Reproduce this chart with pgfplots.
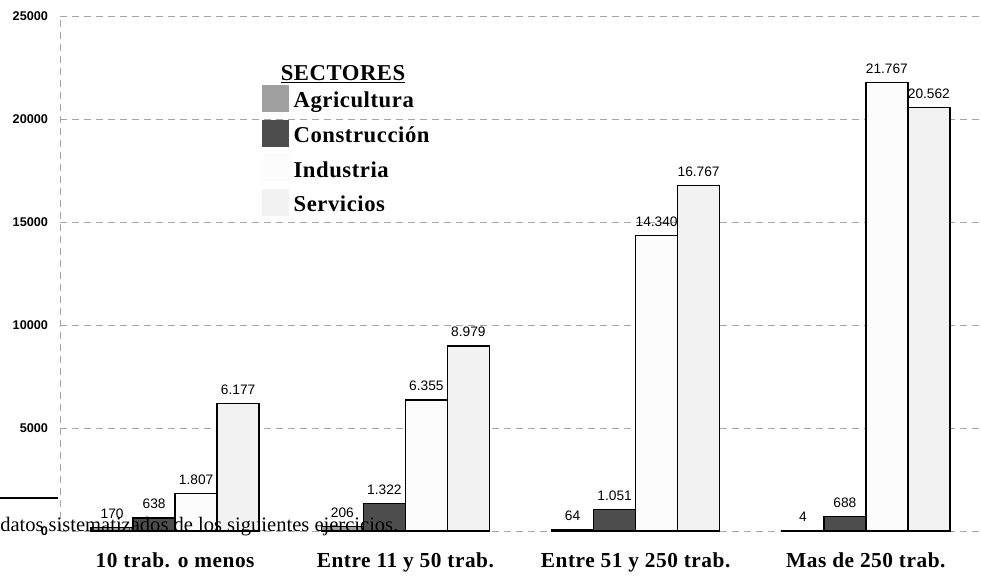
\documentclass[border=0pt]{standalone}
\usepackage{pgfplots}
\pgfplotsset{compat=1.18}
\usepackage{fontspec}
\setmainfont{Liberation Serif}
\newfontfamily\arialf{Liberation Sans}
\newfontfamily\legf[LetterSpace=2.5]{Liberation Serif}
\definecolor{cagr}{HTML}{A0A0A0}
\definecolor{ccon}{HTML}{4D4D4D}
\definecolor{cind}{HTML}{FCFCFC}
\definecolor{cser}{HTML}{F2F2F2}
\definecolor{cgrid}{HTML}{A6A6A6}
\begin{document}
\begin{tikzpicture}
\begin{axis}[
  at={(0pt,0pt)}, anchor=south west,
  scale only axis, width=690.75pt, height=386.25pt,
  xmin=-0.5, xmax=3.5, ymin=0, ymax=25000,
  ybar=0pt, bar width=31.5pt,
  axis line style={draw=none},
  ymajorgrids,
  grid style={cgrid, line width=0.7pt, dash pattern=on 5.5pt off 3.5pt},
  ytick={0,5000,10000,15000,20000,25000},
  scaled y ticks=false,
  major tick length=0pt,
  xtick={0,1,2,3},
  xticklabels={10 trab. o menos, Entre 11 y 50 trab., Entre 51 y 250 trab., Mas de 250 trab.},
  xticklabel style={font=\legf\bfseries\fontsize{16}{18}\selectfont, yshift=-13pt},
  yticklabel style={font=\arialf\bfseries\fontsize{9.5}{11}\selectfont, xshift=-5.5pt},
  /pgf/number format/assume math mode=true,
  /pgf/number format/1000 sep={},
  nodes near coords={\pgfmathprintnumber[fixed,precision=0,1000 sep={.}]{\pgfplotspointmeta}},
  nodes near coords style={font=\arialf\fontsize{10.3}{12}\selectfont, yshift=3pt, text=black},
  every axis plot/.append style={draw=black, line width=1pt,
    legend image code/.code={\fill[##1,draw=none] (0pt,-8.5pt) rectangle (20.25pt,11.75pt);}},
  legend style={at={(0.2190,0.867)}, anchor=north west, draw=none, fill=none,
    inner sep=0pt,
    font=\legf\bfseries\fontsize{17}{20}\selectfont, row sep=5.9pt,
    nodes={inner sep=1pt},
    /tikz/every odd column/.append style={column sep=2.5pt}},
  legend cell align=left,
]
\addplot[fill=cagr] coordinates {(0,170) (1,206) (2,64) (3,4)};
\addlegendentry{Agricultura}
\addplot[fill=ccon] coordinates {(0,638) (1,1322) (2,1051) (3,688)};
\addlegendentry{Construcción}
\addplot[fill=cind] coordinates {(0,1807) (1,6355) (2,14340) (3,21767)};
\addlegendentry{Industria}
\addplot[fill=cser] coordinates {(0,6177) (1,8979) (2,16767) (3,20562)};
\addlegendentry{Servicios}
\draw[cgrid, line width=0.7pt, dash pattern=on 5.5pt off 3.5pt] (axis cs:-0.5,0) -- (axis cs:-0.5,25000);
\node[font=\legf\bfseries\fontsize{17}{20}\selectfont, inner sep=0pt] at (rel axis cs:0.3073,0.8874) {\underline{SECTORES}};
\end{axis}
\draw[black, line width=1.2pt] (-45pt,24.75pt) -- (-1.5pt,24.75pt);
\node[anchor=base west, inner sep=0pt, font=\fontsize{15.4}{17}\selectfont] at (-45pt,0pt) {datos sistematizados de los siguientes ejercicios.};
\pgfresetboundingbox
\useasboundingbox (-45pt,-33pt) rectangle (690.75pt,398.25pt);
\end{tikzpicture}
\end{document}
